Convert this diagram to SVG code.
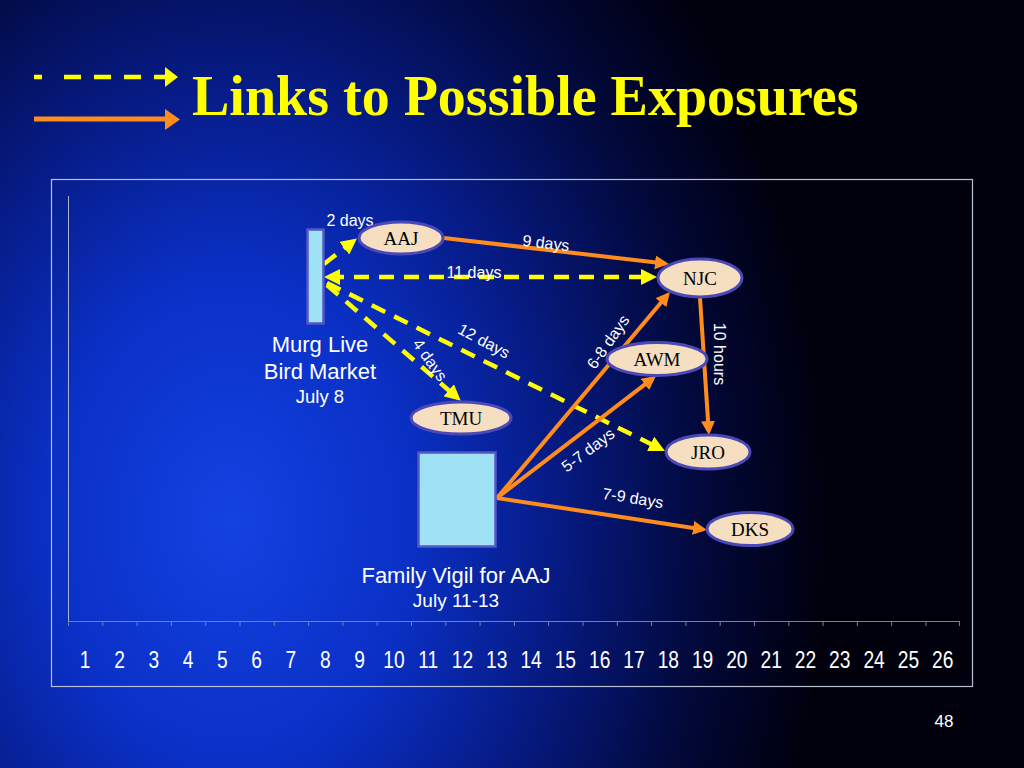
<svg xmlns="http://www.w3.org/2000/svg" width="1024" height="768" viewBox="0 0 1024 768">
<defs>
<radialGradient id="bg" gradientUnits="userSpaceOnUse" cx="230" cy="520" r="600" gradientTransform="translate(230 520) scale(1 1.35) translate(-230 -520)">
<stop offset="0" stop-color="#1442e2"/>
<stop offset="0.3" stop-color="#0a30c6"/>
<stop offset="0.55" stop-color="#061a82"/>
<stop offset="0.8" stop-color="#020838"/>
<stop offset="1" stop-color="#00000c"/>
</radialGradient>
<marker id="ay" viewBox="0 0 16 16" refX="11" refY="8" markerWidth="16" markerHeight="16" orient="auto-start-reverse" markerUnits="userSpaceOnUse"><path d="M0,0 L16,8 L0,16 z" fill="#ffff00"/></marker>
<marker id="ao" viewBox="0 0 14 14" refX="10" refY="7" markerWidth="14" markerHeight="14" orient="auto" markerUnits="userSpaceOnUse"><path d="M0,0 L14,7 L0,14 z" fill="#ff8c1c"/></marker>
</defs>
<style>
.node ellipse{fill:#f6dec0;stroke:#4b48b8;stroke-width:3}
.node text{font-family:"Liberation Serif","Times New Roman",serif;font-size:19px;fill:#000;text-anchor:middle}
.box{fill:#9fe2f6;stroke:#5656c6;stroke-width:2.5}
.lbl{font-family:"Liberation Sans",Arial,sans-serif;fill:#fff;text-anchor:middle}
.dash{fill:none;stroke:#ffff00;stroke-width:4.5;stroke-dasharray:15 10;marker-end:url(#ay)}
.solid{fill:none;stroke:#ff8c1c;stroke-width:4;marker-end:url(#ao)}
.el{font-family:"Liberation Sans",Arial,sans-serif;font-size:16px;fill:#fff;text-anchor:middle}
.num{font-family:"Liberation Sans",Arial,sans-serif;font-size:24px;fill:#fff;text-anchor:middle}
</style>
<rect width="1024" height="768" fill="url(#bg)"/>

<g id="legend">
<path d="M34 77H42M64 77H81M94 77H111M124 77H141M154 77H166" stroke="#ffff00" stroke-width="4.5" fill="none"/>
<polygon points="165,67 178,77 165,87" fill="#ffff00"/>
<line x1="34" y1="119" x2="167" y2="119" stroke="#ff8c1c" stroke-width="5"/>
<polygon points="165,109 180,119.5 165,130" fill="#ff8c1c"/>
</g>
<text x="192" y="115" font-family="Liberation Serif,'Times New Roman',serif" font-weight="bold" font-size="56" fill="#ffff00">Links to Possible Exposures</text>

<g id="chart-frame">
<rect x="51.5" y="179.5" width="921" height="507" fill="none" stroke="#b8c0d4" stroke-width="1.2"/>
<line x1="68.5" y1="196" x2="68.5" y2="621" stroke="#aab2c8" stroke-width="1"/>
<line x1="68" y1="621.5" x2="960" y2="621.5" stroke="#7880a0" stroke-width="1"/>
<path stroke="#7880a0" stroke-width="1" d="M68.5 621v5M102.8 621v5M137.1 621v5M171.4 621v5M205.7 621v5M240 621v5M274.3 621v5M308.6 621v5M342.9 621v5M377.2 621v5M411.5 621v5M445.8 621v5M480.1 621v5M514.4 621v5M548.7 621v5M583 621v5M617.3 621v5M651.6 621v5M685.9 621v5M720.2 621v5M754.5 621v5M788.8 621v5M823.1 621v5M857.4 621v5M891.7 621v5M926 621v5M959.5 621v5"/>
</g>

<g id="axis-labels" transform="translate(0 668) scale(0.8 1)">
<text class="num" x="106.5" y="0">1</text>
<text class="num" x="149.4" y="0">2</text>
<text class="num" x="192.2" y="0">3</text>
<text class="num" x="235.1" y="0">4</text>
<text class="num" x="278" y="0">5</text>
<text class="num" x="320.9" y="0">6</text>
<text class="num" x="363.7" y="0">7</text>
<text class="num" x="406.6" y="0">8</text>
<text class="num" x="449.5" y="0">9</text>
<text class="num" x="492.4" y="0">10</text>
<text class="num" x="535.2" y="0">11</text>
<text class="num" x="578.1" y="0">12</text>
<text class="num" x="621" y="0">13</text>
<text class="num" x="663.9" y="0">14</text>
<text class="num" x="706.7" y="0">15</text>
<text class="num" x="749.6" y="0">16</text>
<text class="num" x="792.5" y="0">17</text>
<text class="num" x="835.4" y="0">18</text>
<text class="num" x="878.2" y="0">19</text>
<text class="num" x="921.1" y="0">20</text>
<text class="num" x="964" y="0">21</text>
<text class="num" x="1006.9" y="0">22</text>
<text class="num" x="1049.7" y="0">23</text>
<text class="num" x="1092.6" y="0">24</text>
<text class="num" x="1135.5" y="0">25</text>
<text class="num" x="1178.4" y="0">26</text>
</g>

<g id="connectors">
<line class="dash" x1="324" y1="264" x2="353" y2="241.5"/>
<line class="dash" x1="329" y1="277" x2="652" y2="277" style="marker-start:url(#ay)"/>
<line class="dash" x1="327" y1="285" x2="457" y2="397.5"/>
<line class="dash" x1="327" y1="283" x2="660.5" y2="448.8"/>
<line class="solid" x1="444" y1="238" x2="665" y2="263.5"/>
<line class="solid" x1="700" y1="298" x2="708.7" y2="431"/>
<line class="solid" x1="497" y1="498" x2="667.4" y2="295"/>
<line class="solid" x1="497" y1="498" x2="652.8" y2="378.4"/>
<line class="solid" x1="497" y1="498" x2="703" y2="529.4"/>
<text class="el" x="350" y="226">2 days</text>
<text class="el" x="546" y="248.5" transform="rotate(6.5 546 243)">9 days</text>
<text class="el" x="474" y="278">11 days</text>
<text class="el" x="484" y="346.5" transform="rotate(28 484 341)">12 days</text>
<text class="el" x="430" y="365.5" transform="rotate(55 430 360)">4 days</text>
<text class="el" x="608" y="347.5" transform="rotate(-55 608 342)">6-8 days</text>
<text class="el" x="719" y="359.5" transform="rotate(90 719 354)">10 hours</text>
<text class="el" x="588" y="455.5" transform="rotate(-37 588 450)">5-7 days</text>
<text class="el" x="633" y="503.5" transform="rotate(9 633 498)">7-9 days</text>
</g>

<g id="murg">
<rect class="box" x="307.5" y="229.5" width="16" height="94"/>
<text class="lbl" x="320" y="352" font-size="22">Murg Live</text>
<text class="lbl" x="320" y="379" font-size="22">Bird Market</text>
<text class="lbl" x="320" y="403" font-size="18.5">July 8</text>
</g>
<g id="vigil">
<rect class="box" x="418.5" y="452.5" width="77" height="94"/>
<text class="lbl" x="456" y="583" font-size="22">Family Vigil for AAJ</text>
<text class="lbl" x="456" y="607" font-size="19">July 11-13</text>
</g>
<g id="AAJ" class="node"><ellipse cx="401" cy="238" rx="42" ry="16"/><text x="401" y="245">AAJ</text></g>
<g id="NJC" class="node"><ellipse cx="700" cy="278" rx="42" ry="19"/><text x="700" y="285">NJC</text></g>
<g id="AWM" class="node"><ellipse cx="657" cy="359" rx="50" ry="16.5"/><text x="657" y="366">AWM</text></g>
<g id="TMU" class="node"><ellipse cx="461" cy="418" rx="50" ry="16"/><text x="461" y="425">TMU</text></g>
<g id="JRO" class="node"><ellipse cx="708" cy="452" rx="42" ry="17"/><text x="708" y="459">JRO</text></g>
<g id="DKS" class="node"><ellipse cx="750" cy="529" rx="43" ry="16.5"/><text x="750" y="536">DKS</text></g>

<text x="944" y="727" font-family="Liberation Sans,Arial,sans-serif" font-size="17" fill="#fff" text-anchor="middle">48</text>
</svg>
